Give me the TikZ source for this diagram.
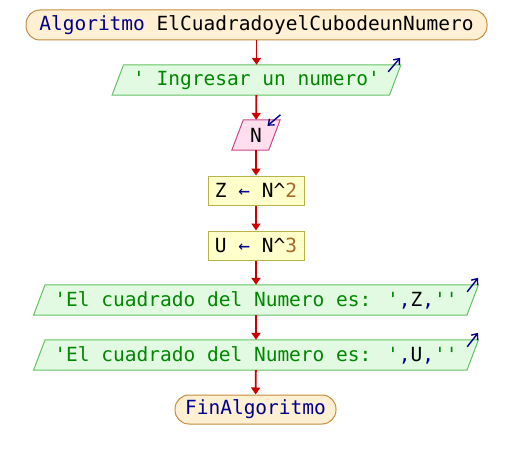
\documentclass[tikz,border=0pt]{standalone}
\usepackage{fontspec}
\newfontfamily\codefont{DejaVu Sans Mono}
\usetikzlibrary{calc,arrows.meta,backgrounds}

\definecolor{kwblue}{RGB}{0,0,140}
\definecolor{strgreen}{RGB}{0,135,0}
\definecolor{numbrown}{RGB}{165,105,40}
\definecolor{flowred}{RGB}{205,0,0}
\definecolor{termfill}{RGB}{255,240,212}
\definecolor{termdraw}{RGB}{200,140,60}
\definecolor{iofill}{RGB}{226,250,226}
\definecolor{iodraw}{RGB}{100,195,100}
\definecolor{readfill}{RGB}{255,222,238}
\definecolor{readdraw}{RGB}{205,70,140}
\definecolor{asgfill}{RGB}{255,255,204}
\definecolor{asgdraw}{RGB}{185,180,70}

\newcommand{\kw}[1]{\textcolor{kwblue}{#1}}
\newcommand{\str}[1]{\textcolor{strgreen}{#1}}
\newcommand{\num}[1]{\textcolor{numbrown}{#1}}

\tikzset{
  base/.style={inner sep=0pt, minimum height=30pt, font=\codefont\fontsize{19.5}{22}\selectfont},
  term/.style={base, draw=termdraw, fill=termfill, line width=1pt, rounded corners=14pt},
  iobox/.style={base},
  asgbox/.style={base, draw=asgdraw, fill=asgfill, line width=1pt, minimum height=29pt},
  flow/.style={draw=flowred, line width=1.8pt, -{Triangle[length=7pt,width=9pt]}},
  ioarrow/.style={draw=kwblue, line width=1.4pt, -{Straight Barb[length=5pt,width=8pt]}},
}

\begin{document}
\begin{tikzpicture}[x=1pt,y=-1pt]
  \useasboundingbox (0,0) rectangle (512,460);

  % nodes of the flowchart, top to bottom
  \node[term, minimum width=461pt] (start) at (256.5,25)
    {\kw{Algoritmo} ElCuadradoyelCubodeunNumero};

  \node[iobox, minimum width=277pt] (leer) at (256.5,80)
    {\str{' Ingresar un numero'}};

  \node[iobox, minimum width=36.5pt] (varN) at (256,135) {N};

  \node[asgbox, minimum width=96pt] (asgZ) at (256,190.5) {Z \kw{←} N\^{}\num{2}};

  \node[asgbox, minimum width=96pt] (asgU) at (256,245.5) {U \kw{←} N\^{}\num{3}};

  \node[iobox, minimum width=433pt] (outZ) at (256,300)
    {\str{'El cuadrado del Numero es: '}\kw{,}Z\kw{,}\str{''}};

  \node[iobox, minimum width=433pt] (outU) at (256,355)
    {\str{'El cuadrado del Numero es: '}\kw{,}U\kw{,}\str{''}};

  \node[term, minimum width=161pt, minimum height=29pt] (fin) at (255.5,409.5)
    {\kw{FinAlgoritmo}};

  % parallelogram outlines of the input/output nodes, behind their texts
  \begin{scope}[on background layer]
  \foreach \n/\f/\d in {leer/iofill/iodraw, outZ/iofill/iodraw, outU/iofill/iodraw, varN/readfill/readdraw}{
    \filldraw[fill=\f, draw=\d, line width=1pt]
      ($(\n.south west)+(-5.75,0)$) -- ($(\n.north west)+(5.75,0)$) --
      ($(\n.north east)+(5.75,0)$) -- ($(\n.south east)+(-5.75,0)$) -- cycle;
  }
  \end{scope}

  % read/write markers
  \draw[ioarrow] ($(leer.north east)+(-7,7)$) -- ($(leer.north east)+(5,-7)$);
  \draw[ioarrow] ($(varN.north east)+(6,-5)$) -- ($(varN.north east)+(-7,6)$);
  \draw[ioarrow] ($(outZ.north east)+(-5.5,7)$) -- ($(outZ.north east)+(5.5,-7)$);
  \draw[ioarrow] ($(outU.north east)+(-5.5,7)$) -- ($(outU.north east)+(5.5,-7)$);

  % connectors
  \draw[flow] (start) -- (leer);
  \draw[flow] (leer) -- (varN);
  \draw[flow] (varN) -- (asgZ);
  \draw[flow] (asgZ) -- (asgU);
  \draw[flow] (asgU) -- (outZ);
  \draw[flow] (outZ) -- (outU);
  \draw[flow] (outU) -- (fin);
\end{tikzpicture}
\end{document}
